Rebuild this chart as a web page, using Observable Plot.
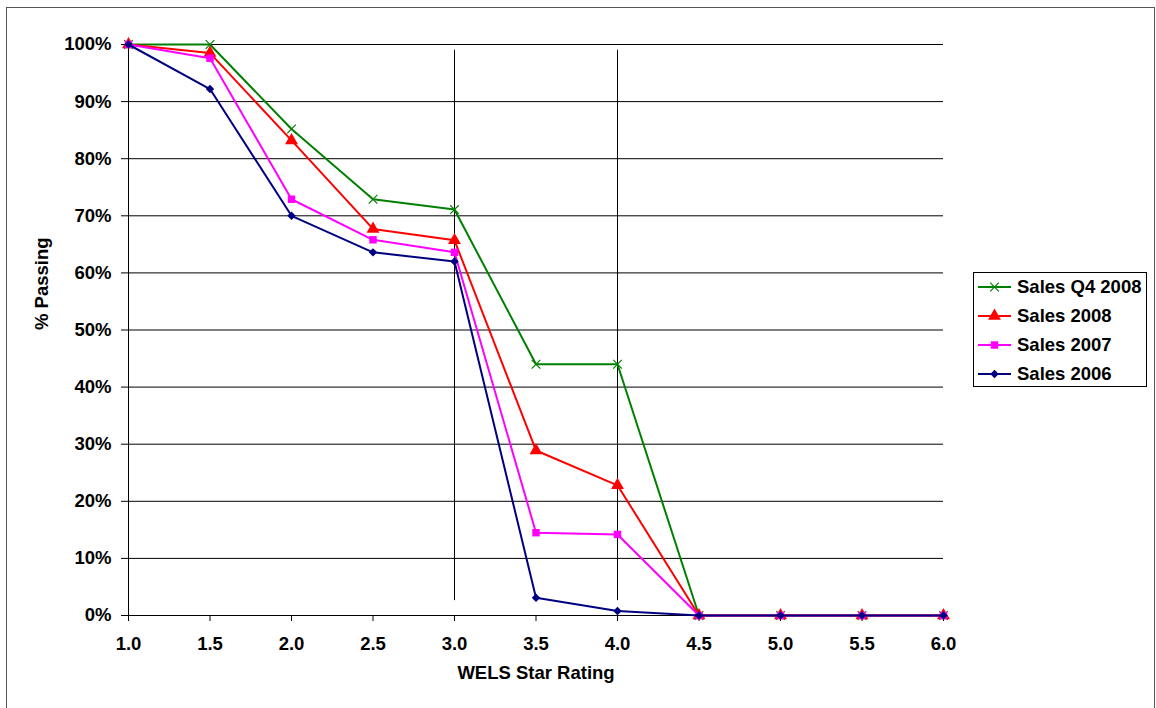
<!DOCTYPE html>
<html>
<head>
<meta charset="utf-8">
<script src="https://cdn.jsdelivr.net/npm/d3@7"></script>
<script src="https://cdn.jsdelivr.net/npm/@observablehq/plot@0.6"></script>
<style>
  html, body { margin: 0; padding: 0; background: #fff; }
  #chart { width: 1156px; height: 708px; overflow: hidden; }
</style>
</head>
<body>
<div id="chart"></div>
<script>
// ---- data ----
const ratings = [1.0, 1.5, 2.0, 2.5, 3.0, 3.5, 4.0, 4.5, 5.0, 5.5, 6.0];
const salesQ42008 = [100, 100, 85.2, 72.9, 71.1, 44.0, 44.0, 0, 0, 0, 0];
const sales2008   = [100, 98.5, 83.2, 67.7, 65.7, 28.9, 22.8, 0, 0, 0, 0];
const sales2007   = [100, 97.6, 72.9, 65.8, 63.6, 14.5, 14.2, 0, 0, 0, 0];
const sales2006   = [100, 92.2, 70.0, 63.6, 62.0, 3.1, 0.8, 0, 0, 0, 0];
const seriesNames = ["Sales Q4 2008", "Sales 2008", "Sales 2007", "Sales 2006"];
const seriesColors = ["#008000", "#ff0000", "#ff00ff", "#000080"];
const seriesSymbols = ["times", "triangle", "square", "diamond2"];
const yTicks = [0, 10, 20, 30, 40, 50, 60, 70, 80, 90, 100];
const xTicks = ratings;
const refX = [3.0, 4.0];
const refY1 = 2.6, refY2 = 99;
const xTitle = "WELS Star Rating";
const yTitle = "% Passing";

const seriesValues = [salesQ42008, sales2008, sales2007, sales2006];
const rows = seriesNames.map((name, i) =>
  ratings.map((r, j) => ({series: name, rating: r, value: seriesValues[i][j]}))
);

const symSize = {times: 4, triangle: 4.8, square: 4.2, diamond2: 3.8};

const marks = [
  Plot.ruleY(yTicks, {stroke: "#000", strokeWidth: 1}),
  Plot.ruleX(refX, {y1: refY1, y2: refY2, stroke: "#000", strokeWidth: 1}),
  Plot.axisX({ticks: xTicks, tickFormat: d3.format(".1f"), tickSize: 6, tickPadding: 15, label: null, stroke: "#000"}),
  Plot.axisY({ticks: yTicks, tickFormat: d => d + "%", tickSize: 7, tickPadding: 10, label: null, stroke: "#000"}),
  Plot.ruleX([1.0], {stroke: "#000"}),
  Plot.ruleY([0], {stroke: "#000"}),
  Plot.text([xTitle], {frameAnchor: "bottom", dy: 63, text: d => d, fill: "#000"}),
  Plot.text([yTitle], {frameAnchor: "left", dx: -86, rotate: -90, text: d => d, fill: "#000"})
];
rows.forEach((data, i) => {
  marks.push(Plot.line(data, {x: "rating", y: "value", stroke: seriesColors[i], strokeWidth: 2}));
  const sym = seriesSymbols[i];
  if (sym === "times") {
    marks.push(Plot.dot(data, {x: "rating", y: "value", symbol: sym, r: symSize[sym], stroke: seriesColors[i], strokeWidth: 1.2, fill: "none"}));
  } else {
    marks.push(Plot.dot(data, {x: "rating", y: "value", symbol: sym, r: symSize[sym], fill: seriesColors[i], stroke: "none"}));
  }
});

const chart = Plot.plot({
  width: 1156,
  height: 708,
  marginLeft: 128,
  marginRight: 213,
  marginTop: 44,
  marginBottom: 93,
  x: {domain: [1, 6]},
  y: {domain: [0, 100]},
  style: {fontFamily: "'Liberation Sans', Arial, sans-serif", fontSize: "18.5px", fontWeight: "bold", color: "#000", background: "#fff"},
  marks
});
document.getElementById("chart").appendChild(chart);

// outer chart-area border and legend
const svg = d3.select(chart);
svg.insert("rect", ":first-child")
  .attr("x", 6.5).attr("y", 7.5).attr("width", 1148).attr("height", 720)
  .attr("fill", "#fff").attr("stroke", "#555").attr("stroke-width", 1);

const lg = svg.append("g").attr("text-anchor", "start");
lg.append("rect").attr("x", 973.5).attr("y", 272.5).attr("width", 173).attr("height", 114)
  .attr("fill", "#fff").attr("stroke", "#000");
const symMap = {times: d3.symbolTimes, triangle: d3.symbolTriangle, square: d3.symbolSquare, diamond2: d3.symbolDiamond2};
seriesNames.forEach((name, i) => {
  const cy = 287 + i * 29;
  lg.append("line").attr("x1", 978).attr("x2", 1011).attr("y1", cy).attr("y2", cy)
    .attr("stroke", seriesColors[i]).attr("stroke-width", 2);
  const sym = seriesSymbols[i];
  const r = symSize[sym];
  const p = lg.append("path").attr("transform", `translate(994.5,${cy})`)
    .attr("d", d3.symbol(symMap[sym], Math.PI * r * r)());
  if (sym === "times") p.attr("fill", "none").attr("stroke", seriesColors[i]).attr("stroke-width", 1.2);
  else p.attr("fill", seriesColors[i]);
  lg.append("text").attr("x", 1017).attr("y", cy).attr("dy", "0.35em")
    .attr("text-anchor", "start").attr("fill", "#000").text(name);
});
</script>
</body>
</html>
